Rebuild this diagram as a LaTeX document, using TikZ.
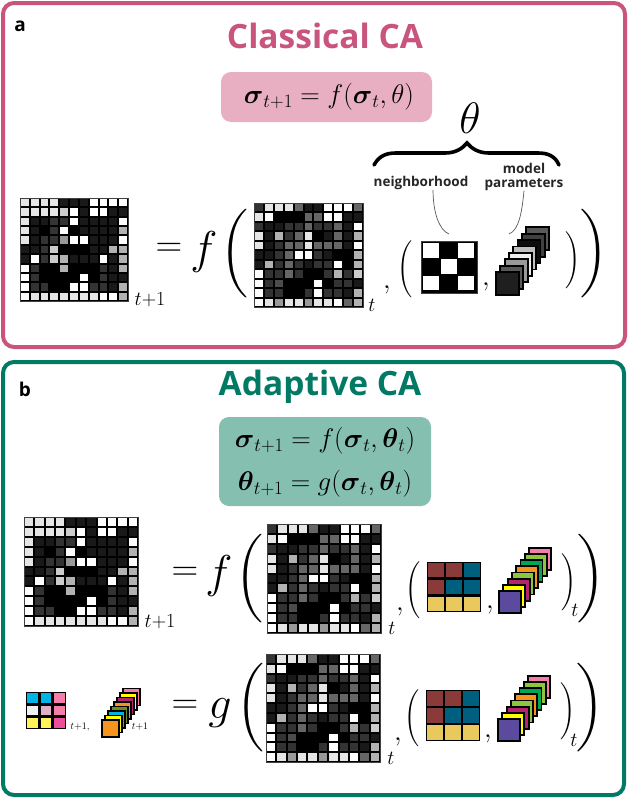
\RequirePackage{fix-cm}
\documentclass[tikz,border=0pt]{standalone}
\usepackage{amsmath,amssymb}
\usepackage{fontspec}
\newfontfamily\labelfont{Open Sans}
\usetikzlibrary{positioning}
\definecolor{capink}{HTML}{C9557F}
\definecolor{capinkbox}{HTML}{E8AFC3}
\definecolor{cateal}{HTML}{007A64}
\definecolor{catealbox}{HTML}{85BFB0}
\definecolor{brownred}{HTML}{8B3A3A}
\definecolor{deepteal}{HTML}{005F7F}
\definecolor{sand}{HTML}{E9C85E}
\definecolor{indigo}{HTML}{5B4A9E}
\definecolor{lemon}{HTML}{FFFF00}
\definecolor{crimson}{HTML}{B5246E}
\definecolor{leaf}{HTML}{8CC63F}
\definecolor{tangerine}{HTML}{F7941D}
\definecolor{forest}{HTML}{00A651}
\definecolor{rosepink}{HTML}{F47DAA}
\definecolor{skyblue}{HTML}{00B4E6}
\definecolor{paleyellow}{HTML}{FFF35A}
\definecolor{hotpink}{HTML}{EE4F9A}
\definecolor{palepink}{HTML}{E0B0C8}
\definecolor{olive}{HTML}{6B8E23}
\definecolor{offwhite}{HTML}{F0F0F0}
\tikzset{
  panel/.style={line width=4pt,rounded corners=11pt},
  eqbox/.style={rounded corners=10pt},
  titletext/.style={font=\labelfont\bfseries\fontsize{33.5}{33.5}\selectfont},
  tagtext/.style={font=\labelfont\bfseries\fontsize{19}{19}\selectfont},
  eqtext/.style={font=\fontsize{27}{27}\selectfont},
  bigmath/.style={font=\fontsize{46}{46}\selectfont},
  signmath/.style={font=\fontsize{37}{37}\selectfont},
  midmath/.style={font=\fontsize{28}{28}\selectfont},
  submath/.style={font=\fontsize{20}{20}\selectfont},
  tinymath/.style={font=\fontsize{10}{10}\selectfont},
  smalltext/.style={font=\labelfont\bfseries\fontsize{13.5}{13.5}\selectfont,text=black!85,inner sep=0pt},
  bigparen/.style={xscale=3.5,yscale=2.95,inner sep=0pt},
  smallparen/.style={scale=1.9,inner sep=0pt},
  leader/.style={black!65,line width=.7pt},
  card/.style={draw=black,line width=1.8pt}
}
\newcommand{\cagrid}[5]{%
  \fill[black,draw=black!75,line width=.6pt] (#1,#2) rectangle +(#3,#4);
  \foreach \v [count=\i from 0] in #5 {
    \pgfmathsetmacro\cx{#1+#3*mod(\i,11)/11}
    \pgfmathsetmacro\cy{#2+#4*floor(\i/11)/11}
    \pgfmathsetmacro\tone{\v*10}
    \fill[white!\tone!black] (\cx+1,\cy+1) rectangle (\cx+#3/11-1,\cy+#4/11-1);
  }}
\newcommand{\colgrid}[5]{%
  \fill[black] (#1,#2) rectangle +(#3,#4);
  \foreach \c [count=\i from 0] in {#5} {
    \pgfmathsetmacro\cx{#1+#3*mod(\i,3)/3}
    \pgfmathsetmacro\cy{#2+#4*floor(\i/3)/3}
    \fill[\c] (\cx+1.4,\cy+1.4) rectangle (\cx+#3/3-1.4,\cy+#4/3-1.4);
  }}
\newcommand{\castack}[6]{%
  \foreach \c [count=\i from 0] in {#6} {
    \pgfmathsetmacro\sx{#1+(7-\i)*#4}
    \pgfmathsetmacro\sy{#2-(7-\i)*#5}
    \filldraw[card,fill=\c] (\sx,\sy) rectangle +(#3,#3);
  }}
\newcommand{\gridnext}{9,9,9,9,1,1,1,10,10,10,10,
9,9,9,9,8,10,1,10,10,1,1,
9,1,1,2,2,10,1,1,1,1,10,
9,1,0,2,10,0,1,1,1,1,7,
9,1,2,2,6,10,10,1,1,1,10,
1,1,2,8,0,0,0,1,1,7,7,
1,10,2,8,7,1,1,1,10,1,7,
10,2,0,0,7,0,0,0,2,1,7,
10,2,0,0,0,0,10,0,2,1,1,
10,2,2,0,0,10,10,2,2,1,7,
10,9,9,9,9,9,9,9,10,10,7}
\newcommand{\gridnow}{2,9,9,9,4,1,1,10,10,10,4,
9,10,0,0,0,4,4,10,10,1,1,
2,1,1,2,2,4,2,2,4,1,10,
9,1,7,2,4,9,0,1,4,1,7,
9,1,2,4,4,9,4,4,4,1,10,
1,1,2,4,10,10,2,1,0,0,7,
1,7,2,4,2,1,2,2,10,0,7,
10,2,2,4,2,0,0,2,7,2,8,
10,2,3,0,0,0,10,0,2,2,1,
10,2,2,0,0,2,10,2,2,1,7,
10,9,6,9,9,6,9,9,10,4,7}
\begin{document}
\begin{tikzpicture}[x=1pt,y=-1pt]
\useasboundingbox (0,0) rectangle (628,798);
\fill[white] (0,0) rectangle (628,798);
\draw[panel,capink] (3,3) rectangle (625,347);
\draw[panel,cateal] (3,362) rectangle (624,795);
\node[tagtext] (taga) at (20,26) {a};
\node[tagtext] (tagb) at (25,389) {b};
\node[titletext,text=capink] (titlea) at (325,36) {Classical CA};
\node[titletext,text=cateal] (titleb) at (320,387) {Adaptive CA};
\fill[eqbox,capinkbox] (221,72) rectangle (432,122);
\fill[eqbox,catealbox] (219,417) rectangle (431,506);
\node[eqtext] (eqa) at (329,97) {$\boldsymbol{\sigma}_{t+1}=f(\boldsymbol{\sigma}_t,\theta)$};
\node[eqtext] (eqb) at (325,441) {$\boldsymbol{\sigma}_{t+1}=f(\boldsymbol{\sigma}_t,\boldsymbol{\theta}_t)$};
\node[eqtext] (eqc) at (325,484) {$\boldsymbol{\theta}_{t+1}=g(\boldsymbol{\sigma}_t,\boldsymbol{\theta}_t)$};

\cagrid{20}{198}{108}{103}{\gridnext}
\cagrid{254}{203}{109}{104}{\gridnow}
\node[submath] (tnexta) at (150,300) {$t{+}1$};
\node[signmath] (eqsigna) at (169,250) {$=$};
\node[bigmath] (funca) at (204,252) {$f$};
\node[bigparen] (lbiga) at (234,254) {$\Bigg($};
\node[bigparen] (rbiga) at (594,254) {$\Bigg)$};
\node[submath] (tnowa) at (372,305) {$t$};
\node[midmath] (commaa) at (387,290) {$,$};
\node[smallparen] (lsmalla) at (405,269) {$\Bigg($};
\node[smallparen] (rsmalla) at (573,260) {$\Bigg)$};
\fill[black,draw=black!75,line width=1pt] (421,241) rectangle (477,293);
\foreach \cx/\cy in {0/0,2/0,1/1,0/2,2/2}{\fill[white] (423+\cx*17.7,243+\cy*16.3) rectangle +(16,14.8);}
\node[midmath] (commab) at (486,287) {$,$};
\castack{496}{272}{23}{4.3}{6.4}{black!65,black!75,black!95,black!25,black!7,black!40,black!65,black!88}
\node[font=\fontsize{44}{44}\selectfont] (theta) at (470,118) {$\theta$};
\draw[line width=3.6pt,line cap=round] (374,165) .. controls (379,156) and (386,153) .. (396,153) -- (445,153) .. controls (455,153) and (462,149) .. (467,143) .. controls (472,149) and (479,153) .. (489,153) -- (538,153) .. controls (548,153) and (555,156) .. (559,165);
\node[smalltext] (nbrlabel) at (421,183) {neighborhood};
\node[smalltext,align=center] (paramlabel) at (524,177) {model\\parameters};
\coordinate (nbrend) at (449,234);
\coordinate (paramend) at (509,234);
\draw[leader] (nbrlabel.-30) .. controls (433,212) and (439,230) .. (nbrend);
\draw[leader] (paramlabel.south) .. controls (522,212) and (519,230) .. (paramend);

\cagrid{24}{517}{114}{109}{\gridnext}
\cagrid{267}{524}{114}{109}{\gridnow}
\node[submath] (tnextb) at (160,622) {$t{+}1$};
\node[signmath] (eqsignb) at (185,574) {$=$};
\node[bigmath] (funcb) at (219,576) {$f$};
\node[bigparen] (lbigb) at (249,579) {$\Bigg($};
\node[bigparen] (rbigb) at (591,579) {$\Bigg)$};
\node[submath] (tnowb) at (392,628) {$t$};
\node[midmath] (commac) at (400,612) {$,$};
\node[smallparen] (lsmallb) at (413,590) {$\Bigg($};
\node[smallparen] (rsmallb) at (569,582) {$\Bigg)$};
\node[submath] (tthetab) at (575,610) {$t$};
\colgrid{427}{562}{54}{50}{brownred,brownred,deepteal,brownred,deepteal,deepteal,sand,sand,sand}
\node[midmath] (commad) at (490,610) {$,$};
\castack{499}{591}{22}{4.3}{6.2}{rosepink,leaf,forest,tangerine,leaf,crimson,lemon,indigo}

\colgrid{26}{692}{40}{37}{skyblue,skyblue,rosepink,offwhite,palepink,rosepink,paleyellow,paleyellow,hotpink}
\node[tinymath] (tnextc) at (80,727) {$t{+}1,$};
\castack{102}{720}{17}{3}{4.5}{rosepink,lemon,crimson,tangerine,olive,skyblue,lemon,tangerine}
\node[tinymath] (tnextd) at (140,727) {$t{+}1$};
\cagrid{266}{654}{114}{108}{\gridnow}
\node[signmath] (eqsignc) at (185,707) {$=$};
\node[bigmath] (funcc) at (220,713) {$g$};
\node[bigparen] (lbigc) at (250,708) {$\Bigg($};
\node[bigparen] (rbigc) at (590,708) {$\Bigg)$};
\node[submath] (tnowc) at (391,758) {$t$};
\node[midmath] (commae) at (398,742) {$,$};
\node[smallparen] (lsmallc) at (412,718) {$\Bigg($};
\node[smallparen] (rsmallc) at (568,711) {$\Bigg)$};
\node[submath] (tthetac) at (574,740) {$t$};
\colgrid{426}{690}{54}{51}{brownred,brownred,deepteal,brownred,deepteal,deepteal,sand,sand,sand}
\node[midmath] (commaf) at (488,739) {$,$};
\castack{498}{719}{22}{4.3}{6.2}{rosepink,leaf,forest,tangerine,leaf,crimson,lemon,indigo}
\end{tikzpicture}
\end{document}
